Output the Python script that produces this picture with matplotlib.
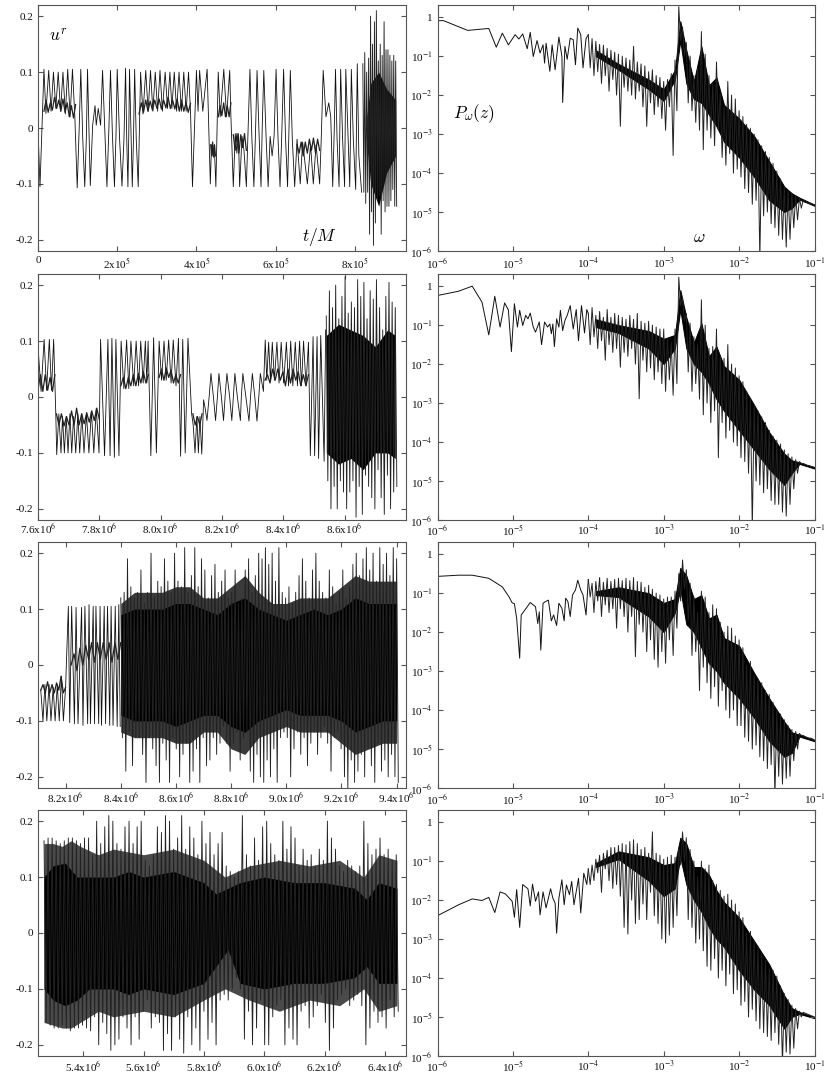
import numpy as np
import matplotlib
matplotlib.use('Agg')
import matplotlib.pyplot as plt

plt.rcParams['font.family'] = ['Liberation Serif', 'DejaVu Serif']
plt.rcParams['mathtext.fontset'] = 'stix'

# ---------- time-series panels: hand-read turning points (t, u) ----------
a_pts = [(0,0),(0.05,-0.105),(0.10,0.0),(0.15,0.105),(0.20,0.026),(0.27,0.103),(0.33,0.03),(0.39,0.1),(0.45,0.035),(0.51,0.1),
 (0.57,0.03),(0.63,0.1),(0.69,0.025),(0.75,0.105),(0.81,0.02),(0.87,0.105),(0.93,0.02),(0.99,-0.107),(1.04,0),(1.08,0.105),
 (1.13,-0.02),(1.18,-0.105),(1.22,-0.02),(1.25,0.105),(1.29,-0.01),(1.32,-0.103),(1.38,0.005),(1.44,0.04),(1.47,0.005),(1.52,0.035),
 (1.58,0.005),(1.63,0.103),(1.69,-0.01),(1.74,-0.105),(1.79,0),(1.83,0.103),(1.88,-0.015),(1.93,-0.105),(1.97,-0.01),(2.0,0.105),
 (2.06,-0.02),(2.12,-0.104),(2.17,-0.02),(2.21,0.107),(2.24,-0.02),(2.27,-0.105),(2.29,-0.02),(2.31,0.105),(2.35,-0.02),(2.38,-0.105),
 (2.41,-0.02),(2.44,0.105),(2.48,-0.02),(2.53,-0.105),(2.59,0.1),(2.65,0.025),(2.72,0.103),(2.78,0.03),(2.84,0.103),(2.90,0.03),
 (2.96,0.1),(3.02,0.03),(3.08,0.103),(3.14,0.03),(3.21,0.1),(3.27,0.035),(3.33,0.1),(3.38,0.035),(3.44,0.1),(3.50,0.03),
 (3.56,0.1),(3.62,0.03),(3.68,0.1),(3.74,0.03),(3.80,0.1),(3.85,0.03),(3.90,-0.105),(3.95,0),(4.0,0.103),(4.04,0.03),
 (4.08,0.103),(4.16,0.03),(4.27,0.105),(4.31,0),(4.35,-0.1),(4.38,-0.03),(4.42,-0.05),(4.45,-0.03),(4.49,-0.105),(4.55,0.1),
 (4.6,0.02),(4.69,0.105),(4.76,0.02),(4.84,0.103),(4.87,0.02),(4.93,-0.105),(4.98,-0.01),(5.02,-0.045),(5.06,-0.01),(5.09,-0.105),
 (5.15,-0.015),(5.2,-0.04),(5.26,-0.105),(5.3,-0.01),(5.35,0.105),(5.4,-0.02),(5.45,-0.105),(5.49,-0.01),(5.53,0.103),(5.58,-0.01),
 (5.63,-0.105),(5.66,0),(5.70,0.103),(5.76,-0.02),(5.81,-0.105),(5.86,-0.015),(5.91,-0.05),(5.96,-0.015),(6.01,0.105),(6.06,-0.02),
 (6.11,-0.105),(6.15,-0.02),(6.20,0.105),(6.25,-0.02),(6.30,-0.105),(6.33,-0.02),(6.37,0.103),(6.42,-0.02),(6.48,-0.105),(6.54,-0.02),
 (6.62,-0.1),(6.68,-0.025),(6.80,-0.1),(6.88,-0.03),(6.95,-0.1),(7.02,-0.03),(7.11,-0.1),(7.15,-0.02),(7.20,0.103),(7.27,0.02),
 (7.34,0.045),(7.39,0.02),(7.44,-0.105),(7.48,0),(7.51,0.105),(7.55,-0.02),(7.60,-0.105),(7.64,0.105),(7.69,-0.02),(7.74,-0.105),
 (7.77,0.105),(7.82,0),(7.87,-0.105),(7.91,0.105),(7.96,-0.02),(8.02,-0.11),(8.06,0.115),(8.10,-0.05),(8.17,-0.115)]
a_wig = [(0.15,0.95,[.03,.05,.028,.045,.032,.055,.035,.05,.03,.052,.028,.045,.02,.04,.018,.042]),
 (2.55,3.85,[.025,.045,.028,.05,.03,.048,.032,.05,.035,.052,.034,.05,.036,.055,.035,.05,.034,.052,.03,.05,.03,.045,.028,.044]),
 (4.36,4.48,[-.03,-.05,-.025,-.052,-.03,-.05]),
 (4.55,4.87,[.02,.04,.022,.045,.02,.04,.02,.045]),
 (4.93,5.26,[-.012,-.04,-.01,-.045,-.012,-.035,-.01,-.04]),
 (6.54,7.11,[-.03,-.045,-.025,-.05,-.025,-.045,-.02,-.04,-.018,-.045,-.02,-.04])]
a_hi = [.115,.135,.10,.125,.20,.15,.19,.21,.12,.15,.13,.19,.14,.14,.13,.12,.13,.12]
a_lo = [-.115,-.135,-.115,-.19,-.15,-.21,-.17,-.13,-.12,-.19,-.13,-.15,-.14,-.14,-.13,-.11,-.14,-.14]
a_core_t = [8.3,8.4,8.6,8.8,9.03]
a_core_hi = [.02,.08,.1,.07,.05]
a_core_lo = [-.03,-.1,-.14,-.08,-.05]

b_pts = [(7.6,0.09),(7.61,0.01),(7.62,0.103),(7.628,0.012),(7.637,0.103),(7.644,0.012),(7.651,0.103),(7.658,-0.03),(7.661,-0.103),(7.668,-0.03),
 (7.675,-0.1),(7.68,-0.035),(7.686,-0.1),(7.692,-0.035),(7.698,-0.1),(7.704,-0.03),(7.71,-0.1),(7.716,-0.035),(7.723,-0.1),(7.73,-0.03),
 (7.736,-0.1),(7.743,-0.03),(7.75,-0.1),(7.758,-0.03),(7.766,-0.1),(7.774,-0.025),(7.782,-0.1),(7.79,-0.02),(7.799,-0.1),(7.804,0.103),
 (7.817,-0.105),(7.828,0.103),(7.835,-0.105),(7.841,0.105),(7.849,-0.108),(7.854,0.103),(7.864,-0.105),(7.871,0.1),(7.88,0.015),(7.889,0.102),
 (7.896,0.015),(7.903,0.1),(7.912,0.02),(7.92,0.1),(7.928,0.02),(7.935,0.1),(7.943,0.025),(7.95,0.1),(7.955,0.025),(7.959,0.1),
 (7.968,-0.105),(7.977,0.106),(7.986,-0.1),(7.995,0.1),(8.003,0.03),(8.011,0.1),(8.018,0.03),(8.026,0.102),(8.034,0.025),(8.041,0.102),
 (8.05,0.02),(8.058,0.105),(8.065,-0.106),(8.072,0.103),(8.08,-0.1),(8.089,0.105),(8.101,-0.03),(8.106,-0.05),(8.112,-0.1),(8.118,-0.035),
 (8.123,-0.1),(8.128,-0.035),(8.134,-0.102),(8.14,-0.005),(8.145,-0.02),(8.151,-0.042),(8.158,0),(8.164,0.042),(8.172,0),(8.179,-0.042),
 (8.185,0),(8.19,0.042),(8.198,0),(8.205,-0.042),(8.21,0),(8.216,0.042),(8.225,0),(8.232,-0.042),(8.237,0),(8.242,0.042),
 (8.25,0),(8.26,-0.042),(8.263,0),(8.268,0.042),(8.278,0),(8.288,-0.043),(8.293,0),(8.299,0.042),(8.307,0),(8.314,-0.043),
 (8.32,0),(8.325,0.042),(8.335,0.01),(8.341,0.102),(8.346,0.03),(8.352,0.098),(8.358,0.03),(8.364,0.098),(8.371,0.03),(8.379,0.098),
 (8.386,0.025),(8.393,0.098),(8.401,0.025),(8.41,0.098),(8.417,0.02),(8.424,0.1),(8.431,0.02),(8.439,0.098),(8.446,0.02),(8.453,0.1),
 (8.459,0.02),(8.466,0.1),(8.474,0.02),(8.482,0.098),(8.488,-0.105),(8.497,0.108),(8.502,-0.105),(8.510,0.108),(8.515,-0.11),(8.522,0.11),
 (8.533,-0.115),(8.538,0.12)]
b_wig = [(7.6,7.655,[.012,.04,.01,.04,.012,.035,.01,.04]),
 (7.66,7.8,[-.03,-.05,-.03,-.052,-.035,-.05,-.025,-.05,-.02,-.05,-.03,-.048,-.028,-.045,-.025,-.042,-.02,-.04]),
 (7.87,7.96,[.02,.035,.015,.035,.02,.04,.02,.042,.025,.045,.025,.04]),
 (7.995,8.065,[.035,.05,.03,.052,.035,.048,.025,.04,.025,.04]),
 (8.105,8.135,[-.03,-.05,-.035,-.05,-.03]),
 (8.34,8.482,[.03,.04,.025,.05,.03,.05,.03,.045,.02,.05,.025,.05,.03,.045,.02,.04,.02,.04])]
b_hi = [.145,.19,.16,.20,.14,.18,.215,.15,.17,.16,.21,.18,.205,.14,.19,.175,.21,.16,.12,.18,.205,.17,.16]
b_lo = [-.15,-.2,-.16,-.2,-.15,-.17,-.2,-.17,-.15,-.215,-.16,-.21,-.14,-.16,-.18,-.2,-.13,-.18,-.21,-.14,-.2,-.17,-.16]
b_core_t = [8.54,8.58,8.62,8.66,8.70,8.74,8.765]
b_core_hi = [.11,.13,.12,.11,.09,.12,.11]
b_core_lo = [-.10,-.12,-.11,-.13,-.10,-.10,-.11]

c_pts = [(8.11,-0.045),(8.118,-0.1),(8.125,-0.035),(8.132,-0.1),(8.14,-0.035),(8.147,-0.1),(8.155,-0.04),(8.162,-0.1),(8.17,-0.035),(8.177,-0.1),
 (8.185,-0.02),(8.192,-0.1),(8.2,-0.04),(8.21,0.105),(8.215,-0.103),(8.222,0.105),(8.232,-0.105),(8.238,0.103),(8.245,-0.105),(8.258,0.103),
 (8.263,-0.108),(8.27,0.105),(8.28,-0.105),(8.285,0.108),(8.29,-0.105),(8.3,0.105),(8.305,-0.105),(8.31,0.105),(8.32,-0.105),(8.325,0.105),
 (8.33,-0.108),(8.34,0.105),(8.345,-0.105),(8.352,0.105),(8.36,-0.108),(8.365,0.105),(8.372,-0.108),(8.38,0.105),(8.387,-0.11),(8.393,0.108),
 (8.398,-0.11)]
c_wig = [(8.11,8.2,[-.045,-.035,-.05,-.03,-.05,-.035,-.05,-.032,-.045,-.02,-.05,-.04]),
 (8.22,8.4,[.0,.02,-.01,.03,.0,.035,.01,.04,.005,.04,.01,.04,.01,.04,.005,.04,.01,.04])]
c_hi = [.12,.13,.19,.14,.12,.13,.17,.11,.13,.20,.12,.15,.14,.19,.15,.13,.20,.15,.14,.21,.13,.16,.21,.14,.19,.17,.12,.16,.18,.13,.15,.17,.12,.13,.17,.11,.12,.17,.19,.13,.16,.20,.19,.21,.18,.20,.15,.21,.13,.12,.14,.11,.13,.16,.19,.15,.12,.17,.20,.15,.13,.12,.17,.14,.11,.13,.17,.12,.14,.18,.20,.16,.19,.21,.17,.20,.15,.21,.18,.20,.16,.21,.19]
c_lo = [-.13,-.19,-.12,-.18,-.13,-.13,-.16,-.21,-.13,-.15,-.18,-.21,-.14,-.17,-.21,-.13,-.15,-.2,-.16,-.14,-.21,-.19,-.15,-.21,-.13,-.18,-.17,-.13,-.16,-.14,-.11,-.14,-.19,-.14,-.12,-.17,-.13,-.12,-.19,-.21,-.16,-.2,-.21,-.17,-.2,-.15,-.21,-.13,-.12,-.13,-.2,-.15,-.12,-.16,-.13,-.18,-.14,-.12,-.16,-.13,-.11,-.14,-.19,-.13,-.12,-.15,-.2,-.22,-.17,-.21,-.19,-.16,-.2,-.15,-.18,-.21,-.14,-.19,-.17,-.2,-.16,-.2,-.21]
c_core_t = [8.40,8.45,8.5,8.55,8.6,8.65,8.7,8.75,8.8,8.85,8.9,8.95,9.0,9.05,9.1,9.15,9.2,9.25,9.3,9.35,9.40]
c_core_hi = [.09,.10,.10,.10,.11,.11,.10,.09,.11,.12,.10,.09,.08,.09,.10,.09,.10,.12,.11,.11,.11]
c_core_lo = [-.09,-.10,-.10,-.10,-.11,-.10,-.09,-.09,-.11,-.12,-.10,-.09,-.08,-.09,-.09,-.09,-.10,-.12,-.11,-.10,-.10]
c_mid_hi = [.11,.13,.13,.13,.14,.14,.12,.12,.14,.16,.13,.11,.11,.12,.12,.12,.14,.16,.15,.15,.15]
c_mid_lo = [-.12,-.13,-.13,-.13,-.14,-.14,-.12,-.12,-.15,-.16,-.13,-.12,-.11,-.12,-.12,-.12,-.14,-.16,-.15,-.14,-.14]

d_hi = [.165,.17,.17,.165,.16,.165,.17,.17,.165,.16,.17,.17,.14,.2,.16,.19,.21,.2,.16,.15,.19,.2,.16,.19,.2,.13,.12,.14,.19,.18,.21,.2,.15,.17,.21,.15,.19,.17,.14,.2,.16,.18,.14,.16,.18,.12,.11,.1,.11,.21,.14,.12,.17,.13,.19,.2,.16,.14,.13,.2,.15,.19,.17,.12,.15,.13,.14,.12,.15,.13,.2,.17,.15,.12,.11,.13,.12,.11,.12,.2,.16,.14,.15,.17,.14,.15,.13,.14]
d_lo = [-.16,-.165,-.17,-.17,-.165,-.17,-.175,-.17,-.17,-.165,-.17,-.175,-.15,-.2,-.16,-.18,-.21,-.2,-.19,-.15,-.17,-.2,-.15,-.19,-.14,-.12,-.17,-.15,-.16,-.21,-.18,-.21,-.15,-.19,-.215,-.15,-.2,-.17,-.21,-.14,-.19,-.16,-.2,-.12,-.11,-.12,-.1,-.08,-.1,-.19,-.14,-.2,-.17,-.12,-.2,-.2,-.15,-.13,-.12,-.2,-.17,-.19,-.2,-.14,-.13,-.17,-.15,-.13,-.11,-.16,-.21,-.17,-.12,-.11,-.1,-.13,-.12,-.11,-.13,-.2,-.17,-.14,-.16,-.15,-.17,-.12,-.15,-.14]
d_mid_t = [5.27,5.30,5.33,5.36,5.39,5.45,5.5,5.6,5.7,5.8,5.87,5.95,6.05,6.15,6.25,6.33,6.38,6.44]
d_mid_hi = [.16,.16,.155,.165,.155,.14,.15,.14,.15,.13,.10,.12,.13,.12,.13,.10,.14,.13]
d_mid_lo = [-.16,-.165,-.17,-.17,-.16,-.14,-.15,-.14,-.15,-.12,-.10,-.12,-.14,-.12,-.13,-.10,-.14,-.13]
d_core_t = [5.27,5.3,5.34,5.38,5.42,5.5,5.55,5.6,5.7,5.8,5.84,5.88,5.92,6.0,6.1,6.2,6.3,6.34,6.38,6.44]
d_core_hi = [.10,.12,.125,.10,.10,.10,.11,.10,.11,.09,.07,.08,.09,.10,.09,.09,.08,.06,.09,.08]
d_core_lo = [-.10,-.12,-.13,-.12,-.10,-.10,-.11,-.10,-.11,-.09,-.06,-.03,-.09,-.10,-.09,-.09,-.08,-.06,-.09,-.09]

# ---------- spectra: (log10 omega, log10 P) ----------
s1_pts = [(-6.0,-.09),(-5.92,-.09),(-5.60,-.34),(-5.32,-.29),(-5.22,-.77),(-5.14,-.41),(-5.06,-.71),(-4.97,-.45),(-4.92,-.56),(-4.87,-.43),(-4.81,-.81),(-4.77,-.39),(-4.73,-1.01),(-4.68,-.60),(-4.64,-.92),(-4.60,-.71),(-4.58,-1.18),(-4.56,-.67),(-4.51,-1.39),(-4.48,-.71),(-4.44,-1.35),(-4.39,-.51),(-4.35,-1.01),(-4.34,-2.19),(-4.31,-.75),(-4.28,-1.08),(-4.24,-.54),(-4.20,-.58),(-4.17,-1.22),(-4.14,-.28),(-4.10,-.45),(-4.07,-1.3),(-4.03,-.55),(-4.0,-.45)]
s2_pts = [(-6,-.24),(-5.72,-.13),(-5.54,0),(-5.41,-.41),(-5.32,-1.25),(-5.24,-.26),(-5.17,-1.05),(-5.11,-.43),(-5.06,-.61),(-5.02,-1.68),(-4.98,-.45),(-4.94,-1.05),(-4.91,-.62),(-4.87,-1.01),(-4.83,-.75),(-4.80,-.84),(-4.77,-.69),(-4.73,-1.05),(-4.70,-1.18),(-4.65,-.92),(-4.62,-1.5),(-4.58,-.92),(-4.54,-1.05),(-4.51,-.97),(-4.49,-1.22),(-4.47,-.97),(-4.45,-1.55),(-4.42,-.84),(-4.39,-1.05),(-4.37,-.62),(-4.34,-1.14),(-4.31,-.88),(-4.28,-.75),(-4.24,-.5),(-4.2,-1.1),(-4.16,-.6),(-4.13,-1.4),(-4.09,-.5),(-4.05,-1.2),(-4.02,-.6),(-4.0,-.7)]
s3_pts = [(-6,-.57),(-5.72,-.54),(-5.54,-.54),(-5.32,-.62),(-5.14,-.84),(-5.05,-1.1),(-5.01,-1.25),(-4.98,-1.27),(-4.95,-1.65),(-4.91,-2.67),(-4.89,-1.56),(-4.84,-1.43),(-4.77,-1.24),(-4.70,-1.35),(-4.67,-1.78),(-4.65,-1.48),(-4.63,-2.46),(-4.60,-1.26),(-4.57,-1.22),(-4.53,-1.18),(-4.49,-1.71),(-4.46,-1.56),(-4.42,-1.83),(-4.39,-1.26),(-4.35,-1.39),(-4.32,-1.71),(-4.30,-1.13),(-4.27,-1.22),(-4.24,-1.6),(-4.21,-1.05),(-4.17,-.92),(-4.14,-.67),(-4.10,-.92),(-4.07,-1.05),(-4.03,-1.56),(-4.0,-.65)]
s4_pts = [(-6,-2.4),(-5.72,-2.12),(-5.54,-1.97),(-5.41,-2.01),(-5.32,-1.93),(-5.24,-2.32),(-5.17,-1.79),(-5.10,-1.84),(-5.01,-2.03),(-4.98,-2.44),(-4.95,-1.73),(-4.91,-2.7),(-4.87,-1.6),(-4.80,-1.71),(-4.77,-2.15),(-4.74,-1.59),(-4.70,-2.03),(-4.66,-1.79),(-4.64,-2.38),(-4.60,-1.79),(-4.56,-2.2),(-4.50,-1.71),(-4.47,-1.95),(-4.44,-2.08),(-4.42,-2.85),(-4.39,-1.95),(-4.35,-1.48),(-4.32,-2.12),(-4.29,-1.61),(-4.25,-1.86),(-4.22,-1.52),(-4.19,-2.12),(-4.13,-1.44),(-4.10,-2.33),(-4.06,-1.31),(-4.02,-1.6),(-4.0,-1.2)]

w_start, w_end = -4.0, -1.0
s1_hi = [-.45,-.55,-.62,-.7,-.72,-.8,-.85,-.9,-.95,-1.0,
         -1.05,-1.1,-.75,-1.15,-1.2,-1.25,-1.4,-1.35,-1.5,-1.55,
         -1.65,-1.6,-1.45,-1.1,.27,-.25,-.65,-1.0,-1.5,-1.3,
         -.37,-.95,-1.5,-1.7,-1.15,-1.95,-2.3,-1.65,-2.0,-2.1,
         -2.4,-2.55,-2.75,-2.85,-3.0,-3.15,-3.3,-3.45,-3.6,-3.75,
         -3.95,-4.15,-4.35,-4.45,-4.52,-4.58,-4.64,-4.7,-4.74,-4.78,-4.81]
s1_lo = [-1.3,-1.5,-1.4,-1.7,-1.5,-1.9,-1.6,-2.0,-2.8,-1.8,
         -1.9,-2.0,-2.1,-1.9,-2.3,-2.8,-2.2,-2.5,-2.3,-2.6,
         -2.9,-2.3,-3.55,-2.4,-.6,-1.0,-2.2,-2.4,-2.7,-2.9,
         -3.4,-2.9,-3.1,-3.3,-2.9,-3.6,-3.8,-3.5,-4.0,-3.9,
         -4.1,-4.4,-4.5,-4.8,-4.7,-6.2,-5.1,-5.0,-5.3,-5.4,
         -5.6,-5.7,-5.9,-5.7,-5.4,-5.2,-4.9,-4.75,-4.78,-4.8,-4.83]
s2_hi = [-.7,-.55,-.75,-.65,-.8,-.6,-.8,-.7,-.75,-.8,
         -.85,-.75,-.85,-.7,-.9,-.95,-.9,-1.0,-1.05,-1.1,
         -1.1,-1.35,-1.45,-1.1,.23,-.3,-.7,-.95,-1.3,-1.5,
         -.35,-1.0,-1.6,-1.55,-1.1,-1.8,-1.85,-1.5,-2.0,-2.1,
         -2.3,-2.45,-2.7,-2.9,-3.05,-3.2,-3.35,-3.5,-3.7,-3.85,
         -3.95,-4.05,-4.2,-4.3,-4.38,-4.45,-4.5,-4.55,-4.6,-4.62,-4.65]
s2_lo = [-1.5,-1.3,-1.6,-1.4,-1.9,-1.5,-1.7,-1.6,-2.08,-1.7,
         -1.8,-1.6,-2.0,-2.89,-1.9,-2.2,-2.1,-2.4,-2.2,-2.5,
         -2.7,-2.4,-2.8,-2.5,-.5,-.9,-2.2,-2.7,-2.5,-2.9,
         -3.3,-3.0,-3.5,-3.2,-4.4,-3.5,-3.9,-3.7,-4.0,-4.1,
         -4.4,-4.5,-4.8,-6.2,-5.0,-5.1,-5.3,-5.2,-5.5,-5.6,
         -5.6,-5.8,-5.9,-5.6,-5.2,-4.8,-4.55,-4.57,-4.6,-4.63,-4.67]
s3_hi = [-.65,-.75,-.7,-.6,-.72,-.62,-.7,-.65,-.62,-.68,
         -.62,-.68,-.6,-.7,-.72,-.85,-.8,-.9,-1.0,-1.05,
         -1.15,-1.1,-1.1,-.95,-.5,-.15,-.4,-.75,-1.1,-1.5,
         -.95,-1.1,-1.5,-1.3,-1.4,-1.75,-2.0,-1.85,-1.9,-2.1,
         -2.2,-2.4,-2.85,-2.75,-3.1,-3.2,-3.3,-3.5,-3.6,-3.8,
         -4.0,-4.1,-4.25,-4.4,-4.5,-4.55,-4.6,-4.65,-4.7,-4.72,-4.77]
s3_lo = [-1.1,-1.5,-1.2,-1.6,-1.3,-1.5,-1.4,-1.9,-1.4,-1.6,
         -2.0,-1.6,-2.63,-1.8,-2.0,-2.5,-2.2,-2.7,-2.9,-2.5,
         -2.8,-2.2,-2.6,-1.9,-1.2,-.9,-1.7,-2.6,-2.5,-3.5,
         -2.9,-3.3,-3.7,-3.4,-3.9,-3.5,-4.0,-4.2,-4.0,-4.4,
         -4.4,-4.7,-4.8,-5.0,-4.9,-5.2,-5.3,-5.5,-5.4,-6.2,
         -5.7,-5.9,-5.75,-5.7,-5.3,-5.0,-4.65,-4.68,-4.72,-4.74,-4.79]
s4_hi = [-1.2,-1.1,-.95,-.85,-.8,-.72,-.65,-.65,-.6,-.55,
         -.58,-.5,-.45,-.55,-.7,-.65,-.8,-.25,-.8,-.85,
         -.95,-.9,-.85,-.9,-.65,-.25,-.4,-.7,-1.0,-1.4,
         -1.0,-1.2,-1.1,-1.5,-1.6,-1.75,-1.9,-1.85,-2.0,-2.1,
         -2.3,-2.45,-2.85,-2.8,-3.05,-3.2,-3.4,-3.55,-3.75,-3.8,
         -3.95,-4.2,-4.4,-4.55,-4.7,-4.78,-4.85,-4.88,-4.92,-4.96,-5.0]
s4_lo = [-1.6,-1.5,-1.3,-1.8,-1.2,-1.5,-1.7,-1.6,-1.9,-2.7,
         -2.87,-2.0,-2.6,-2.5,-2.1,-2.5,-1.8,-2.4,-2.6,-3.0,
         -3.1,-2.9,-2.7,-2.4,-1.1,-1.0,-2.5,-2.7,-3.1,-3.0,
         -3.3,-3.7,-3.8,-3.5,-4.0,-3.8,-4.2,-3.9,-4.4,-4.3,
         -4.7,-4.6,-5.0,-4.8,-5.1,-5.3,-5.4,-5.5,-5.6,-5.4,
         -5.7,-6.2,-5.9,-5.95,-5.8,-5.3,-5.0,-4.9,-4.94,-4.98,-5.02]
core_w = [-3.9,-3.6,-3.2,-3.0,-2.85,-2.78,-2.7,-2.6,-2.5,-2.4,-2.3,-2.2,-2.0,-1.8,-1.6,-1.4,-1.3,-1.2,-1.0]
s1_core_hi = [-.85,-1.2,-1.6,-1.85,-1.35,-.1,-.85,-1.65,-.75,-1.75,-1.55,-2.25,-2.6,-3.05,-3.7,-4.35,-4.52,-4.63,-4.81]
s1_core_lo = [-1.0,-1.35,-1.85,-2.15,-1.6,-.6,-1.7,-2.1,-2.2,-2.5,-2.8,-3.2,-3.6,-4.1,-4.7,-5.0,-4.9,-4.68,-4.84]
s2_core_hi = [-.85,-1.0,-1.15,-1.35,-1.25,-.1,-.8,-1.45,-.95,-1.8,-1.55,-2.05,-2.4,-3.05,-3.75,-4.3,-4.47,-4.52,-4.65]
s2_core_lo = [-1.05,-1.2,-1.6,-2.0,-1.6,-.6,-1.6,-2.0,-2.2,-2.5,-2.9,-3.2,-3.7,-4.2,-4.7,-5.1,-4.8,-4.56,-4.68]
s3_core_hi = [-.95,-.85,-1.0,-1.25,-1.15,-.35,-.55,-1.15,-1.05,-1.65,-1.55,-2.15,-2.35,-3.05,-3.7,-4.3,-4.57,-4.63,-4.77]
s3_core_lo = [-1.05,-1.1,-1.6,-2.0,-1.5,-.9,-1.8,-2.0,-2.4,-2.8,-3.0,-3.3,-3.7,-4.2,-4.8,-5.2,-5.1,-4.68,-4.8]
s4_core_hi = [-1.05,-.75,-.9,-1.1,-1.05,-.4,-.55,-1.15,-1.15,-1.35,-1.75,-2.05,-2.45,-3.05,-3.65,-4.45,-4.77,-4.87,-5.0]
s4_core_lo = [-1.15,-.95,-1.5,-1.9,-1.7,-.9,-1.6,-2.0,-2.3,-2.7,-3.0,-3.2,-3.8,-4.3,-4.7,-5.3,-5.0,-4.92,-5.03]

# ---------- axis text ----------
left_yt = [-0.2,-0.1,0,0.1,0.2]
left_yl = ['-0.2','-0.1','0','0.1','0.2']
right_yt = [1e-6,1e-5,1e-4,1e-3,1e-2,1e-1,1]
right_yl = ['10$^{-6}$','10$^{-5}$','10$^{-4}$','10$^{-3}$','10$^{-2}$','10$^{-1}$','1']
right_xt = [1e-6,1e-5,1e-4,1e-3,1e-2,1e-1]
right_xl = ['10$^{-6}$','10$^{-5}$','10$^{-4}$','10$^{-3}$','10$^{-2}$','10$^{-1}$']
xt1 = [0,2,4,6,8]; xl1 = ['0','2x10$^{5}$','4x10$^{5}$','6x10$^{5}$','8x10$^{5}$']
xt2 = [7.6,7.8,8.0,8.2,8.4,8.6]; xl2 = ['7.6x10$^{6}$','7.8x10$^{6}$','8.0x10$^{6}$','8.2x10$^{6}$','8.4x10$^{6}$','8.6x10$^{6}$']
xt3 = [8.2,8.4,8.6,8.8,9.0,9.2,9.4]; xl3 = ['8.2x10$^{6}$','8.4x10$^{6}$','8.6x10$^{6}$','8.8x10$^{6}$','9.0x10$^{6}$','9.2x10$^{6}$','9.4x10$^{6}$']
xt4 = [5.4,5.6,5.8,6.0,6.2,6.4]; xl4 = ['5.4x10$^{6}$','5.6x10$^{6}$','5.8x10$^{6}$','6.0x10$^{6}$','6.2x10$^{6}$','6.4x10$^{6}$']

W, H = 830, 1076
fig = plt.figure(figsize=(W/100, H/100), dpi=100)
FR = '#555555'
LW = 0.6

def mk(x0, x1, y0, y1, xpad):
    ax = fig.add_axes([x0/W, 1-y1/H, (x1-x0)/W, (y1-y0)/H])
    for s in ax.spines.values():
        s.set_color(FR); s.set_linewidth(0.8)
    ax.tick_params(which='major', direction='in', top=True, right=True, length=3.5, width=0.8,
                   color=FR, labelsize=8, pad=3.5, labelcolor='#111111')
    ax.tick_params(axis='x', which='major', pad=xpad)
    ax.tick_params(which='minor', length=0)
    return ax

def left(y0, y1, xlim, xt, xl, xpad):
    ax = mk(38, 406, y0, y1, xpad)
    ax.set_xlim(*xlim); ax.set_ylim(-0.22, 0.22)
    ax.set_xticks(xt); ax.set_xticklabels(xl)
    ax.set_yticks(left_yt); ax.set_yticklabels(left_yl)
    return ax

def right(y0, y1, xpad):
    ax = mk(437.5, 814.5, y0, y1, xpad)
    ax.set_xscale('log'); ax.set_yscale('log')
    ax.set_xlim(1e-6, 1e-1); ax.set_ylim(1e-6, 2.05)
    ax.set_xticks(right_xt); ax.set_xticklabels(right_xl)
    ax.set_yticks(right_yt); ax.set_yticklabels(right_yl)
    return ax

def zig(ax, pts):
    t, u = zip(*pts)
    ax.plot(t, u, color='#111111', lw=LW)

def wiggles(ax, wig):
    for t0, t1, v in wig:
        ax.plot(np.linspace(t0, t1, len(v)), v, color='#222222', lw=0.9)

def strokes(t, hi, lo):
    # one stroke per reading: high value, then low value half a step later
    t = np.asarray(t); step = np.gradient(t)
    x = np.column_stack([t, t + step/2]).ravel()
    y = np.column_stack([hi, lo]).ravel()
    return x, y

def dense(ax, t0, t1, hi, lo, core_t, core_hi, core_lo):
    x, y = strokes(np.linspace(t0, t1, len(hi)), hi, lo)
    ax.plot(x, y, color='#222222', lw=0.65)
    ax.fill_between(core_t, core_lo, core_hi, color='black', lw=0)

def spectrum(ax, pts, hi, lo, c_h, c_l):
    w, p = zip(*pts)
    ax.plot(10.0**np.array(w), 10.0**np.array(p), color='#111111', lw=0.7)
    x, y = strokes(np.linspace(w_start, w_end, len(hi)), hi, lo)
    ax.plot(10.0**x, 10.0**y, color='#222222', lw=0.7)
    ax.fill_between(10.0**np.array(core_w), 10.0**np.array(c_l), 10.0**np.array(c_h),
                    facecolor='black', edgecolor='black', lw=0.7)

# row 1
ax = left(5, 251, (0, 9.29), xt1, xl1, 3.5)
zig(ax, a_pts)
wiggles(ax, a_wig)
dense(ax, 8.2, 9.03, a_hi, a_lo, a_core_t, a_core_hi, a_core_lo)
ax.text(0.03, 0.87, r'$u^r$', transform=ax.transAxes, fontsize=12.5, math_fontfamily='cm', va='center')
ax.text(0.717, 0.057, r'$t/M$', transform=ax.transAxes, fontsize=12.5, math_fontfamily='cm', va='center')
ax = right(5, 251, 3.5)
spectrum(ax, s1_pts, s1_hi, s1_lo, s1_core_hi, s1_core_lo)
ax.text(0.04, 0.56, r'$P_\omega(z)$', transform=ax.transAxes, fontsize=12.5, math_fontfamily='cm', va='center')
ax.text(0.695, 0.053, r'$\omega$', transform=ax.transAxes, fontsize=12.5, math_fontfamily='cm', va='center', ha='center')

# row 2
ax = left(274, 520, (7.6, 8.8), xt2, xl2, 0.5)
zig(ax, b_pts)
wiggles(ax, b_wig)
dense(ax, 8.54, 8.765, b_hi, b_lo, b_core_t, b_core_hi, b_core_lo)
ax = right(274, 520, 2)
spectrum(ax, s2_pts, s2_hi, s2_lo, s2_core_hi, s2_core_lo)

# row 3
ax = left(542, 788, (8.1, 9.434), xt3, xl3, 1.5)
zig(ax, c_pts)
wiggles(ax, c_wig)
ax.fill_between(c_core_t, c_mid_lo, c_mid_hi, color='#3a3a3a', lw=0)
dense(ax, 8.40, 9.40, c_hi, c_lo, c_core_t, c_core_hi, c_core_lo)
ax = right(542, 788, 3)
spectrum(ax, s3_pts, s3_hi, s3_lo, s3_core_hi, s3_core_lo)

# row 4
ax = left(810, 1056, (5.25, 6.47), xt4, xl4, 2)
ax.fill_between(d_mid_t, d_mid_lo, d_mid_hi, color='#4a4a4a', lw=0)
dense(ax, 5.27, 6.4376, d_hi, d_lo, d_core_t, d_core_hi, d_core_lo)
ax = right(810, 1056, 2)
spectrum(ax, s4_pts, s4_hi, s4_lo, s4_core_hi, s4_core_lo)

fig.savefig('out.png', dpi=100)
